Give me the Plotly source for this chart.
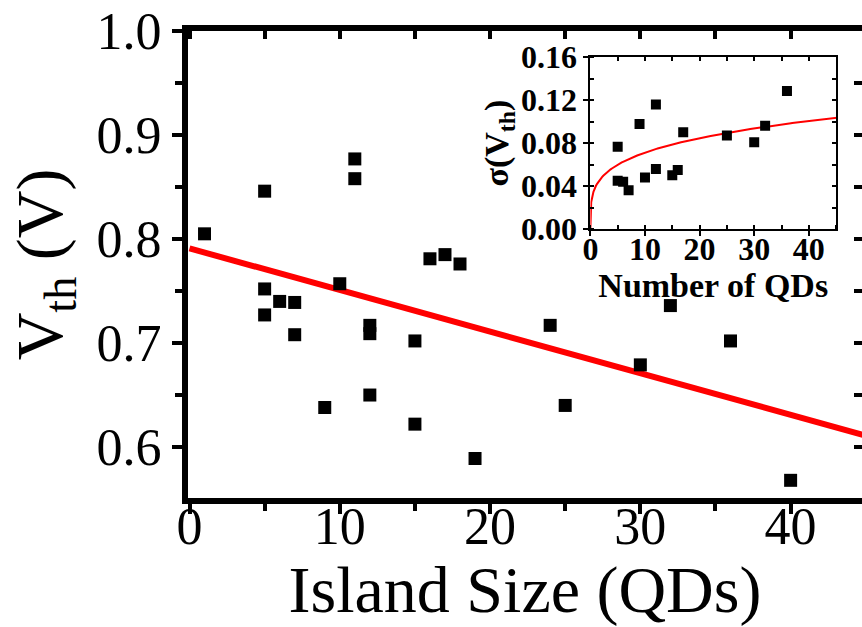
import numpy as np
import plotly.graph_objects as go

# Main panel: threshold voltage vs island size
island_size = [1, 5, 5, 5, 6, 7, 7, 9, 10, 11, 11, 12, 12, 12, 15, 15, 16, 17, 18, 19,
               24, 25, 30, 32, 36, 40]
vth = [0.805, 0.846, 0.752, 0.727, 0.740, 0.739, 0.708, 0.638, 0.757, 0.877, 0.858,
       0.717, 0.709, 0.650, 0.702, 0.622, 0.781, 0.785, 0.776, 0.589, 0.717, 0.640,
       0.679, 0.736, 0.702, 0.568]
lin_intercept = 0.791
lin_slope = -0.0040

main_xticks = [0, 10, 20, 30, 40]
main_yticks = [0.6, 0.7, 0.8, 0.9, 1.0]

# Inset: spread of threshold voltage vs number of QDs
num_qds = [5, 5, 6, 7, 9, 10, 12, 12, 15, 16, 17, 25, 30, 32, 36]
sigma_vth = [0.0765, 0.045, 0.044, 0.036, 0.0977, 0.048, 0.116, 0.0558, 0.050, 0.0549,
             0.090, 0.087, 0.0808, 0.0962, 0.1286]
pow_amp = 0.040
pow_exp = 0.25

inset_xticks = [0, 10, 20, 30, 40]
inset_yticks = [0.00, 0.04, 0.08, 0.12, 0.16]

SERIF = "Liberation Serif, Times New Roman, serif"

fit_x = np.linspace(0, 46, 50)
fit_y = lin_intercept + lin_slope * fit_x
pow_x = np.concatenate([np.linspace(0, 1, 200), np.linspace(1, 46, 200)])
pow_y = pow_amp * np.power(pow_x, pow_exp)

fig = go.Figure()

fig.add_trace(go.Scatter(x=fit_x, y=fit_y, mode="lines",
                         line=dict(color="#ff0000", width=6),
                         xaxis="x", yaxis="y", hoverinfo="skip"))
fig.add_trace(go.Scatter(x=island_size, y=vth, mode="markers",
                         marker=dict(symbol="square", size=13, color="black"),
                         xaxis="x", yaxis="y"))

fig.add_trace(go.Scatter(x=pow_x, y=pow_y, mode="lines",
                         line=dict(color="#ff0000", width=2),
                         xaxis="x2", yaxis="y2", hoverinfo="skip"))
fig.add_trace(go.Scatter(x=num_qds, y=sigma_vth, mode="markers",
                         marker=dict(symbol="square", size=10, color="black"),
                         xaxis="x2", yaxis="y2"))

# placeholder traces so the mirrored frame axes get drawn
fig.add_trace(go.Scatter(x=[None], y=[None], xaxis="x3", yaxis="y3", showlegend=False))
fig.add_trace(go.Scatter(x=[None], y=[None], xaxis="x4", yaxis="y4", showlegend=False))

XR = [-0.1, 44.75]
YR = [0.551, 1.0]
IXR = [0, 45]
IYR = [0, 0.16]
ins_x = [0.597, 0.9616]
ins_y = [0.576, 0.944]

fig.update_layout(
    width=862, height=627,
    margin=dict(l=188, r=0, t=31, b=129, autoexpand=False),
    paper_bgcolor="white", plot_bgcolor="white",
    showlegend=False,
    font=dict(family=SERIF, color="black"),
    xaxis=dict(
        domain=[0, 1], range=XR, anchor="y", automargin=False,
        tickvals=main_xticks, ticktext=[str(v) for v in main_xticks],
        showline=True, linewidth=6, linecolor="black",
        ticks="outside", ticklen=10, tickwidth=4, tickcolor="black",
        minor=dict(dtick=5, tick0=0, ticks="outside", ticklen=7, tickwidth=4, tickcolor="black"),
        showgrid=False, zeroline=False,
        tickfont=dict(size=52, family=SERIF), ticklabelstandoff=-32,
        title=dict(text="Island Size (QDs)", font=dict(size=66, family=SERIF), standoff=0),
    ),
    yaxis=dict(
        domain=[0, 1], range=YR, anchor="x", automargin=False,
        tickvals=main_yticks, ticktext=[f"{v:.1f}" for v in main_yticks],
        showline=True, linewidth=6, linecolor="black",
        ticks="outside", ticklen=10, tickwidth=4, tickcolor="black",
        minor=dict(dtick=0.05, tick0=0.55, ticks="outside", ticklen=7, tickwidth=4, tickcolor="black"),
        showgrid=False, zeroline=False,
        tickfont=dict(size=52, family=SERIF),
        title=dict(text="V<sub>th</sub> (V)", font=dict(size=66, family=SERIF), standoff=14),
    ),
    xaxis3=dict(
        overlaying="x", anchor="y3", side="top", range=XR,
        showline=True, linewidth=6, linecolor="black",
        ticks="inside", dtick=5, tick0=0, ticklen=8, tickwidth=4, tickcolor="black",
        showticklabels=False, showgrid=False, zeroline=False,
    ),
    yaxis3=dict(
        overlaying="y", anchor="x3", side="right", range=YR,
        showline=True, linewidth=6, linecolor="black",
        ticks="inside", dtick=0.05, tick0=0.55, ticklen=8, tickwidth=4, tickcolor="black",
        showticklabels=False, showgrid=False, zeroline=False,
    ),
    xaxis2=dict(
        domain=ins_x, range=IXR, anchor="y2", automargin=False,
        tickvals=inset_xticks, ticktext=[str(v) for v in inset_xticks],
        showline=True, linewidth=2, linecolor="black",
        ticks="outside", ticklen=5, tickwidth=2, tickcolor="black",
        minor=dict(dtick=5, tick0=0, ticks="inside", ticklen=4, tickwidth=2, tickcolor="black"),
        showgrid=False, zeroline=False,
        tickfont=dict(size=32, family=SERIF, weight="bold"), ticklabelstandoff=-14,
        title=dict(text="<b>Number of QDs</b>", font=dict(size=34, family=SERIF), standoff=0),
    ),
    yaxis2=dict(
        domain=ins_y, range=IYR, anchor="x2", automargin=False,
        tickvals=inset_yticks, ticktext=[f"{v:.2f}" for v in inset_yticks],
        showline=True, linewidth=2, linecolor="black",
        ticks="outside", ticklen=5, tickwidth=2, tickcolor="black",
        minor=dict(dtick=0.02, tick0=0, ticks="inside", ticklen=4, tickwidth=2, tickcolor="black"),
        showgrid=False, zeroline=False,
        tickfont=dict(size=32, family=SERIF, weight="bold"),
        title=dict(text="<b>σ(V<sub>th</sub>)</b>", font=dict(size=34, family=SERIF), standoff=2),
    ),
    xaxis4=dict(
        overlaying="x2", anchor="y4", side="top", range=IXR,
        showline=True, linewidth=2, linecolor="black",
        ticks="inside", dtick=5, tick0=0, ticklen=4, tickwidth=2, tickcolor="black",
        showticklabels=False, showgrid=False, zeroline=False,
    ),
    yaxis4=dict(
        overlaying="y2", anchor="x4", side="right", range=IYR,
        showline=True, linewidth=2, linecolor="black",
        ticks="inside", dtick=0.02, tick0=0, ticklen=4, tickwidth=2, tickcolor="black",
        showticklabels=False, showgrid=False, zeroline=False,
    ),
)

fig.write_html("out.html")
